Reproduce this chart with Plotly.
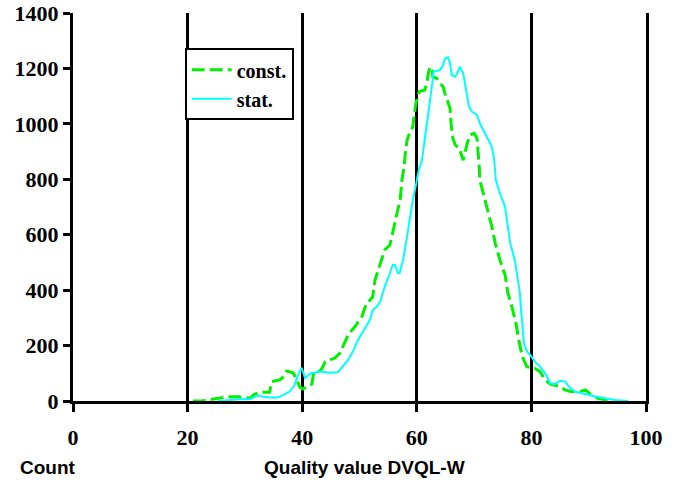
import plotly.graph_objects as go

# ---- data ----
const_x = [20.9, 22.5, 23.9, 25.3, 26.9, 29.0, 30.9, 31.7, 33.0, 34.3, 34.7, 36.1, 36.9, 37.3, 37.8,
           38.4, 38.9, 39.6, 40.1, 41.0, 41.7, 42.0, 43.1, 43.5, 44.0, 44.8, 45.7, 46.6, 47.2, 48.0,
           48.7, 49.2, 49.9, 50.4, 51.1, 52.3, 52.7, 53.6, 54.4, 55.3, 55.7, 55.9, 56.4, 57.1, 57.4,
           57.8, 58.0, 58.3, 58.8, 59.3, 59.5, 59.85, 60.4, 61.4, 61.8, 62.0, 62.3, 62.7, 62.8, 63.5,
           64.05, 64.6, 64.9, 65.45, 65.8, 65.9, 66.0, 66.3, 66.7, 67.4, 67.7, 68.1, 68.4, 68.8, 69.3,
           70.0, 70.5, 70.7, 70.9, 71.0, 71.6, 72.25, 73.1, 73.7, 74.5, 75.4, 75.9, 76.6, 77.3, 77.8,
           78.4, 79.2, 80.6, 81.5, 82.4, 83.3, 84.1, 85.0, 85.9, 86.8, 88.5, 89.4, 90.3, 91.6, 92.9, 94.0]
const_y = [0, 0, 5, 10, 15, 15, 10, 25, 32, 32, 70, 76, 90, 108, 104,
           102, 83, 50, 43, 52, 61, 102, 108, 119, 142, 148, 155, 173, 200, 238,
           256, 268, 290, 304, 346, 376, 436, 497, 545, 563, 593, 617, 665, 725, 797,
           848, 895, 941, 971, 989, 1026, 1074, 1116, 1122, 1152, 1182, 1206, 1192, 1170, 1164,
           1146, 1134, 1110, 1080, 1056, 1026, 996, 948, 924, 912, 894, 869, 895, 930, 960,
           966, 948, 905, 845, 797, 749, 701, 629, 569, 509, 455, 389, 340, 280, 220,
           160, 124, 118, 106, 76, 61, 58, 52, 40, 34, 34, 40, 25, 10, 4, 0]

stat_x = [25.3, 27.0, 29.1, 30.9, 32.3, 33.5, 35.2, 36.1, 37.0, 37.8, 38.6, 39.2, 39.9, 40.5, 41.5,
          43.1, 44.8, 46.2, 46.9, 48.0, 48.9, 49.6, 50.6, 51.8, 52.3, 53.0, 53.6, 54.4, 55.3, 55.8,
          56.2, 56.7, 57.0, 57.6, 58.3, 58.8, 59.3, 59.9, 60.3, 60.9, 61.4, 61.97, 62.3, 62.7, 62.9,
          64.05, 64.6, 64.9, 65.45, 65.8, 66.1, 66.7, 67.2, 67.5, 68.1, 68.4, 68.8, 69.1, 69.6, 70.5,
          71.0, 71.6, 72.25, 73.1, 73.5, 73.8, 74.5, 75.4, 75.9, 76.3, 77.1, 77.5, 78.0, 78.2, 78.4,
          78.7, 79.2, 79.8, 80.6, 81.5, 82.4, 83.3, 84.1, 85.0, 85.9, 86.8, 87.6, 89.4, 91.1, 92.9,
          94.6, 96.9]
stat_y = [0, 3, 6, 7, 20, 14, 12, 15, 25, 34, 55, 90, 120, 83, 100,
          106, 102, 104, 120, 148, 180, 215, 250, 292, 328, 340, 358, 412, 461, 491,
          491, 461, 461, 509, 593, 665, 725, 785, 830, 869, 941, 1026, 1086, 1146, 1188,
          1194, 1212, 1236, 1240, 1218, 1176, 1170, 1188, 1206, 1182, 1146, 1110, 1062, 1044, 1032,
          1002, 978, 948, 917, 870, 797, 749, 701, 629, 569, 509, 448, 389, 328, 268,
          208, 180, 166, 142, 124, 100, 64, 61, 73, 70, 46, 34, 25, 16, 10,
          4, 0]

series_names = ["const.", "stat."]
x_ticks = [0, 20, 40, 60, 80, 100]
y_ticks = [0, 200, 400, 600, 800, 1000, 1200, 1400]
x_title = "Quality value DVQL-W"
y_title = "Count"

serif = "Liberation Serif"
sans = "Liberation Sans"

fig = go.Figure()
fig.add_trace(go.Scatter(x=const_x, y=const_y, mode="lines", name=series_names[0],
                         line=dict(color="#00f000", width=3, dash="13px,5px")))
fig.add_trace(go.Scatter(x=stat_x, y=stat_y, mode="lines", name=series_names[1],
                         line=dict(color="#00ffff", width=2)))

fig.update_layout(
    width=678, height=485,
    margin=dict(l=73, r=32, t=13, b=84, autoexpand=False),
    paper_bgcolor="white", plot_bgcolor="white",
    showlegend=True,
    legend=dict(x=0.195, y=0.909, xanchor="left", yanchor="top",
                bgcolor="white", bordercolor="black", borderwidth=2,
                itemwidth=40,
                font=dict(family=serif, size=20, color="black", weight="bold"),
                tracegroupgap=0),
    xaxis=dict(range=[0, 100], tickvals=x_ticks, ticktext=[str(v) for v in x_ticks],
               showgrid=True, gridcolor="black", gridwidth=3,
               showline=True, linecolor="black", linewidth=3,
               ticks="outside", ticklen=8, tickwidth=3, tickcolor="black",
               ticklabelstandoff=7, automargin=False, ticklabeloverflow="allow",
               zeroline=False,
               tickfont=dict(family=serif, size=22, color="black", weight="bold")),
    yaxis=dict(range=[0, 1400], tickvals=y_ticks, ticktext=[str(v) for v in y_ticks],
               showgrid=False, automargin=False, ticklabeloverflow="allow",
               showline=True, linecolor="black", linewidth=3, mirror=True,
               ticks="outside", ticklen=7, tickwidth=3, tickcolor="black",
               zeroline=False,
               tickfont=dict(family=serif, size=22, color="black", weight="bold")),
    annotations=[
        dict(text=y_title, xref="paper", yref="paper", x=-0.0966, y=-0.1725,
             xanchor="left", yanchor="middle", showarrow=False,
             font=dict(family=sans, size=19, color="black", weight="bold")),
        dict(text=x_title, xref="paper", yref="paper", x=0.508, y=-0.1725,
             xanchor="center", yanchor="middle", showarrow=False,
             font=dict(family=sans, size=19, color="black", weight="bold")),
    ],
)

# remove the browser's default page margin so the figure fills the window exactly
fig.write_html("out.html", config={"displayModeBar": False},
               post_script="document.body.style.margin='0';")
